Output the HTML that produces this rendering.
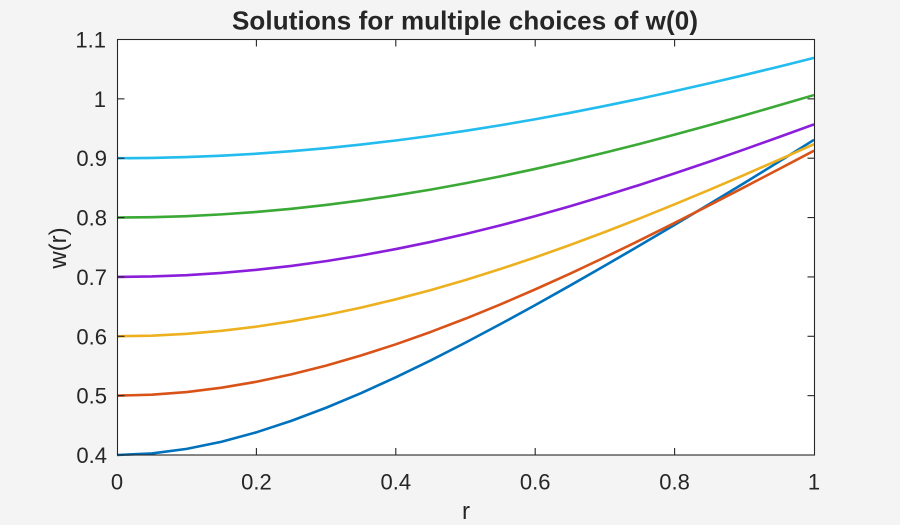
<!DOCTYPE html>
<html>
<head>
<meta charset="utf-8">
<style>
  html, body { margin: 0; padding: 0; background: #f4f4f4; }
  body { width: 900px; height: 525px; overflow: hidden; }
  svg { display: block; }
  text { font-family: "Liberation Sans", Arial, Helvetica, sans-serif; fill: #262626; }
</style>
</head>
<body>
<svg width="900" height="525" viewBox="0 0 900 525" xmlns="http://www.w3.org/2000/svg">
  <rect x="0" y="0" width="900" height="525" fill="#f4f4f4"/>
  <rect x="117" y="39.5" width="697" height="415.5" fill="#ffffff"/>

  <!-- series -->
  <g fill="none" stroke-width="2.6" stroke-linejoin="round" stroke-linecap="butt">
    <polyline stroke="#0072BD" points="117,455 151.85,453.41 186.7,448.87 221.55,441.74 256.4,432.31 291.25,420.90 326.1,407.76 360.95,393.16 395.8,377.30 430.65,360.40 465.5,342.63 500.35,324.15 535.2,305.09 570.05,285.56 604.9,265.64 639.75,245.39 674.6,224.85 709.45,204.05 744.3,182.96 779.15,161.57 814,139.81"/>
    <polyline stroke="#D95319" points="117,395.64 151.85,394.72 186.7,392.04 221.55,387.68 256.4,381.76 291.25,374.36 326.1,365.59 360.95,355.53 395.8,344.30 430.65,331.97 465.5,318.65 500.35,304.42 535.2,289.38 570.05,273.63 604.9,257.24 639.75,240.32 674.6,222.94 709.45,205.20 744.3,187.19 779.15,168.98 814,150.67"/>
    <polyline stroke="#EDB120" points="117,336.29 151.85,335.67 186.7,333.82 221.55,330.79 256.4,326.61 291.25,321.33 326.1,314.99 360.95,307.63 395.8,299.31 430.65,290.07 465.5,279.97 500.35,269.05 535.2,257.38 570.05,245.02 604.9,232.01 639.75,218.43 674.6,204.34 709.45,189.81 744.3,174.89 779.15,159.67 814,144.21"/>
    <polyline stroke="#8A1EDB" points="117,276.93 151.85,276.48 186.7,275.15 221.55,272.94 256.4,269.85 291.25,265.90 326.1,261.11 360.95,255.50 395.8,249.09 430.65,241.92 465.5,234.01 500.35,225.40 535.2,216.13 570.05,206.25 604.9,195.80 639.75,184.84 674.6,173.42 709.45,161.60 744.3,149.44 779.15,137.01 814,124.38"/>
    <polyline stroke="#3BA935" points="117,217.57 151.85,217.21 186.7,216.15 221.55,214.38 256.4,211.92 291.25,208.77 326.1,204.94 360.95,200.46 395.8,195.34 430.65,189.60 465.5,183.27 500.35,176.38 535.2,168.95 570.05,161.03 604.9,152.64 639.75,143.84 674.6,134.65 709.45,125.13 744.3,115.32 779.15,105.28 814,95.06"/>
    <polyline stroke="#22BCEE" points="117,158.22 151.85,157.94 186.7,157.09 221.55,155.69 256.4,153.73 291.25,151.22 326.1,148.17 360.95,144.59 395.8,140.49 430.65,135.89 465.5,130.80 500.35,125.25 535.2,119.24 570.05,112.80 604.9,105.95 639.75,98.73 674.6,91.15 709.45,83.24 744.3,75.05 779.15,66.59 814,57.91"/>
  </g>

  <!-- axes box -->
  <rect x="117.5" y="39.5" width="697" height="415.5" fill="none" stroke="#262626" stroke-width="1.1"/>

  <!-- ticks -->
  <g stroke="#262626" stroke-width="1.1">
    <line x1="256.4" y1="455" x2="256.4" y2="448"/>
    <line x1="395.8" y1="455" x2="395.8" y2="448"/>
    <line x1="535.2" y1="455" x2="535.2" y2="448"/>
    <line x1="674.6" y1="455" x2="674.6" y2="448"/>
    <line x1="256.4" y1="39.5" x2="256.4" y2="46.5"/>
    <line x1="395.8" y1="39.5" x2="395.8" y2="46.5"/>
    <line x1="535.2" y1="39.5" x2="535.2" y2="46.5"/>
    <line x1="674.6" y1="39.5" x2="674.6" y2="46.5"/>
    <line x1="117.5" y1="395.64" x2="124.5" y2="395.64"/>
    <line x1="117.5" y1="336.29" x2="124.5" y2="336.29"/>
    <line x1="117.5" y1="276.93" x2="124.5" y2="276.93"/>
    <line x1="117.5" y1="217.57" x2="124.5" y2="217.57"/>
    <line x1="117.5" y1="158.21" x2="124.5" y2="158.21"/>
    <line x1="117.5" y1="98.86" x2="124.5" y2="98.86"/>
    <line x1="814.5" y1="395.64" x2="807.5" y2="395.64"/>
    <line x1="814.5" y1="336.29" x2="807.5" y2="336.29"/>
    <line x1="814.5" y1="276.93" x2="807.5" y2="276.93"/>
    <line x1="814.5" y1="217.57" x2="807.5" y2="217.57"/>
    <line x1="814.5" y1="158.21" x2="807.5" y2="158.21"/>
    <line x1="814.5" y1="98.86" x2="807.5" y2="98.86"/>
  </g>

  <!-- y tick labels -->
  <g font-size="22" text-anchor="end">
    <text x="107" y="463">0.4</text>
    <text x="107" y="403.6">0.5</text>
    <text x="107" y="344.3">0.6</text>
    <text x="107" y="284.9">0.7</text>
    <text x="107" y="225.6">0.8</text>
    <text x="107" y="166.2">0.9</text>
    <text x="106" y="106.9">1</text>
    <text x="106" y="47.5">1.1</text>
  </g>

  <!-- x tick labels -->
  <g font-size="22" text-anchor="middle">
    <text x="117" y="489.5">0</text>
    <text x="256.4" y="489.5">0.2</text>
    <text x="395.8" y="489.5">0.4</text>
    <text x="535.2" y="489.5">0.6</text>
    <text x="674.6" y="489.5">0.8</text>
    <text x="814" y="489.5">1</text>
  </g>

  <!-- axis labels -->
  <text x="466" y="519" font-size="24" text-anchor="middle">r</text>
  <text transform="translate(66,248) rotate(-90)" font-size="24" text-anchor="middle">w(r)</text>

  <!-- title -->
  <text x="232" y="29.5" font-size="26" font-weight="bold" textLength="466" lengthAdjust="spacing">Solutions for multiple choices of w(0)</text>
</svg>
</body>
</html>
